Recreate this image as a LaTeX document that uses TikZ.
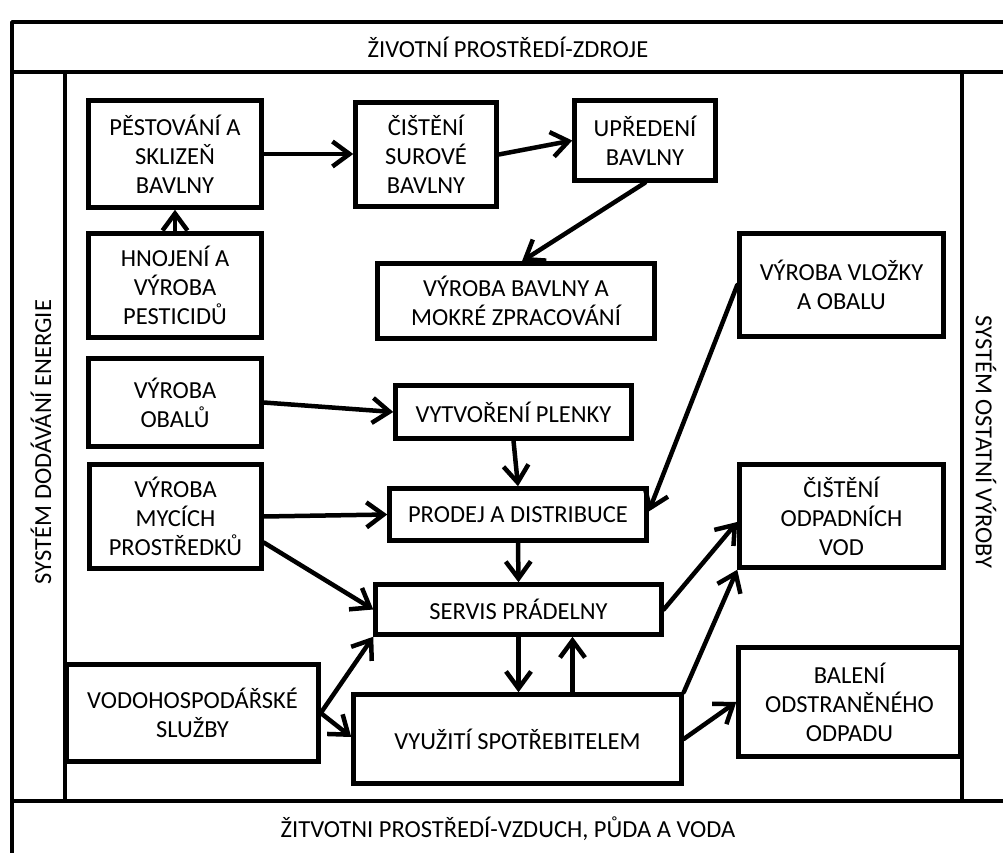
\documentclass[tikz,border=0pt]{standalone}
\usepackage{fontspec}
\setmainfont{Carlito}
\usetikzlibrary{arrows.meta}

\begin{document}
\begin{tikzpicture}[x=1pt,y=1pt,
  boxnode/.style={draw=drawColor,line width=4.5pt,align=center,inner sep=2pt,
    font=\fontsize{24.5}{29}\selectfont},
  flow/.style={draw=drawColor,line width=4.5pt,line cap=round,line join=round,
    -{Straight Barb[length=17pt,width=25pt]}},
  frameline/.style={draw=drawColor,line width=3.5pt,line join=round},
  bandtext/.style={text=drawColor,inner sep=0pt,font=\fontsize{24.5}{29}\selectfont}]
\definecolor{drawColor}{RGB}{0,0,0}
\definecolor{fillColor}{RGB}{255,255,255}
\path[use as bounding box,fill=fillColor] (0,0) rectangle (1003,852);
\begin{scope}
\path[clip] (0,0) rectangle (1003,852);

% frame bands
\path[frameline] (12,-10) -- (12,830) -- (1013,830);
\path[frameline] (12,780) -- (1013,780);
\path[frameline] (12,51) -- (1013,51);
\path[frameline] (65,780) -- (65,51);
\path[frameline] (962,780) -- (962,51);

\node[bandtext] (zdroje) at (508,805) {ŽIVOTNÍ PROSTŘEDÍ-ZDROJE};
\node[bandtext] (vzduch) at (508,23) {ŽITVOTNI PROSTŘEDÍ-VZDUCH, PŮDA A VODA};
\node[bandtext,rotate=90] (energie) at (41,410) {SYSTÉM DODÁVÁNÍ ENERGIE};
\node[bandtext,rotate=-90] (ostatni) at (986,410) {SYSTÉM OSTATNÍ VÝROBY};
\end{scope}

% process boxes
\node[boxnode,minimum width=173pt,minimum height=107pt] (pestovani) at (175,698) {PĚSTOVÁNÍ A\\SKLIZEŇ\\BAVLNY};
\node[boxnode,minimum width=173pt,minimum height=104pt] (hnojeni) at (175,566.5) {HNOJENÍ A\\VÝROBA\\PESTICIDŮ};
\node[boxnode,minimum width=141pt,minimum height=104pt] (cisteni) at (426,697.5) {ČIŠTĚNÍ\\SUROVÉ\\BAVLNY};
\node[boxnode,minimum width=141pt,minimum height=80pt] (upredeni) at (645,711.5) {UPŘEDENÍ\\BAVLNY};
\node[boxnode,minimum width=277pt,minimum height=75pt] (vyrobabav) at (516,551) {VÝROBA BAVLNY A\\MOKRÉ ZPRACOVÁNÍ};
\node[boxnode,minimum width=204pt,minimum height=103pt] (vlozky) at (841.5,567) {VÝROBA VLOŽKY\\A OBALU};
\node[boxnode,minimum width=173pt,minimum height=88pt] (obaly) at (175,449.5) {VÝROBA\\OBALŮ};
\node[boxnode,minimum width=172pt,minimum height=104pt] (myci) at (175.5,335.5) {VÝROBA\\MYCÍCH\\PROSTŘEDKŮ};
\node[boxnode,minimum width=236pt,minimum height=53pt] (plenky) at (513.5,440) {VYTVOŘENÍ PLENKY};
\node[boxnode,minimum width=257pt,minimum height=52pt] (prodej) at (518,337.5) {PRODEJ A DISTRIBUCE};
\node[boxnode,minimum width=286pt,minimum height=50pt] (servis) at (518.5,242.5) {SERVIS PRÁDELNY};
\node[boxnode,minimum width=204pt,minimum height=103pt] (odpvody) at (841.5,336) {ČIŠTĚNÍ\\ODPADNÍCH\\VOD};
\node[boxnode,minimum width=252pt,minimum height=97pt] (vodo) at (192.5,139) {VODOHOSPODÁŘSKÉ\\SLUŽBY};
\node[boxnode,minimum width=328pt,minimum height=89pt] (vyuziti) at (517.5,113) {VYUŽITÍ SPOTŘEBITELEM};
\node[boxnode,minimum width=222pt,minimum height=109pt] (baleni) at (849.5,150) {BALENÍ\\ODSTRANĚNÉHO\\ODPADU};

% flows
\path[flow] (pestovani.east) -- (pestovani.east -| cisteni.west);
\path[flow] (cisteni.east) -- (upredeni.west);
\path[flow] (upredeni.south) -- ([xshift=6pt]vyrobabav.north);
\path[flow] (hnojeni.north) -- (pestovani.south);
\path[flow] (obaly.east) -- (plenky.west);
\path[flow] (plenky.south) -- (prodej.north);
\path[flow] (myci.east) -- (prodej.west);
\path[flow] ([yshift=-26pt]myci.east) -- (servis.west);
\path[flow] (vlozky.west) -- ([yshift=3pt]prodej.east);
\path[flow] (prodej.south) -- (servis.north);
\path[flow] (servis.east) -- ([yshift=-6pt]odpvody.west);
\path[flow] (vyuziti.north east) -- (odpvody.south west);
\path[flow] (vyuziti.east) -- (baleni.west);
\path[flow] (servis.south) -- (servis.south |- vyuziti.north);
\path[flow] ([xshift=55pt]vyuziti.north) -- ([xshift=55pt]vyuziti.north |- servis.south);
\path[flow] (vodo.east) -- (servis.south west);
\path[flow] (vodo.east) -- ([yshift=2pt]vyuziti.west);
\end{tikzpicture}
\end{document}
